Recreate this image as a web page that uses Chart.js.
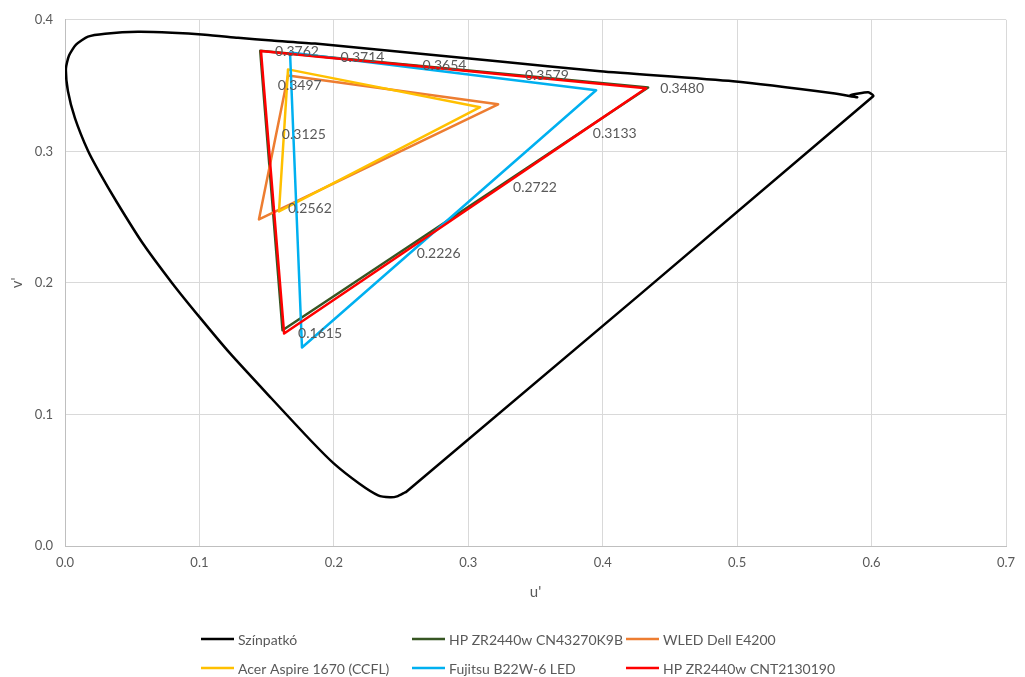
<!DOCTYPE html>
<html>
<head>
<meta charset="utf-8">
<script src="https://cdn.jsdelivr.net/npm/chart.js@4.4.1/dist/chart.umd.min.js"></script>
<style>
  html, body { margin: 0; padding: 0; background: #ffffff; }
  #wrap { width: 1025px; height: 677px; }
</style>
</head>
<body>
<div id="wrap"><canvas id="c" width="1025" height="677"></canvas></div>
<script>
// Series names (legend order)
const seriesNames = [
  'Színpatkó',
  'HP ZR2440w CN43270K9B',
  'WLED Dell E4200',
  'Acer Aspire 1670 (CCFL)',
  'Fujitsu B22W-6 LED',
  'HP ZR2440w CNT2130190'
];
const seriesColors = ['#000000', '#375623', '#ED7D31', '#FFC000', '#00B0F0', '#FF0000'];

// Spectral locus (horseshoe) in u'/v', from the violet end round to the red end and back
const locusU = [0.2530, 0.2470, 0.2418, 0.2329, 0.2188, 0.2001, 0.1830, 0.1533, 0.1228,
                0.1004, 0.0796, 0.0573, 0.0387, 0.0257, 0.0171, 0.0074, 0.0022, 0.0007, 0.0030,
                0.0082, 0.0171, 0.0298, 0.0543, 0.0796, 0.1042, 0.1287, 0.1540, 0.1860, 0.3237,
                0.3981, 0.4970, 0.5714, 0.5893, 0.5841, 0.5975, 0.6012, 0.2537];
const locusV = [0.0408, 0.0377, 0.0370, 0.0385, 0.0475, 0.0626, 0.0800, 0.1125, 0.1464,
                0.1736, 0.2000, 0.2309, 0.2611, 0.2838, 0.3004, 0.3253, 0.3457, 0.3630, 0.3728,
                0.3811, 0.3872, 0.3894, 0.3909, 0.3902, 0.3887, 0.3864, 0.3842, 0.3819, 0.3683,
                0.3608, 0.3532, 0.3442, 0.3411, 0.3426, 0.3449, 0.3419, 0.0410];

// Monitor gamut triangles (closed: last point repeats the first)
const hpK9bU   = [0.1452, 0.4338, 0.1618, 0.1452];
const hpK9bV   = [0.3765, 0.3485, 0.1640, 0.3765];
const dellU    = [0.1659, 0.3222, 0.1443, 0.1659];
const dellV    = [0.3577, 0.3358, 0.2483, 0.3577];
const acerU    = [0.1659, 0.3088, 0.1592, 0.1659];
const acerV    = [0.3623, 0.3336, 0.2543, 0.3623];
const fujitsuU = [0.1674, 0.3951, 0.1763, 0.1674];
const fujitsuV = [0.3751, 0.3464, 0.1509, 0.3751];
// HP CNT2130190 measured along the triangle edges; each point carries its v' label
const hp190U   = [0.1458, 0.1945, 0.2555, 0.3317, 0.4323, 0.3822, 0.3229, 0.2512, 0.1630, 0.1554, 0.1509, 0.1479, 0.1458];
const hp190V   = [0.3762, 0.3714, 0.3654, 0.3579, 0.3480, 0.3133, 0.2722, 0.2226, 0.1615, 0.2562, 0.3125, 0.3497, 0.3762];

// Axis ticks
const xTicks = [0.0, 0.1, 0.2, 0.3, 0.4, 0.5, 0.6, 0.7];
const yTicks = [0.0, 0.1, 0.2, 0.3, 0.4];

const toPoints = (us, vs) => us.map((u, i) => ({ x: u, y: vs[i] }));
const seriesData = [
  toPoints(locusU, locusV),
  toPoints(hpK9bU, hpK9bV),
  toPoints(dellU, dellV),
  toPoints(acerU, acerV),
  toPoints(fujitsuU, fujitsuV),
  toPoints(hp190U, hp190V)
];

const TEXT = '#595959';
const FONT = 'Lato, "Open Sans", "DejaVu Sans", sans-serif';

// v' value labels to the right of each HP CNT2130190 point
const valueLabels = {
  id: 'valueLabels',
  afterDatasetsDraw(chart) {
    const meta = chart.getDatasetMeta(5);
    const ctx = chart.ctx;
    ctx.save();
    ctx.font = '14px ' + FONT;
    ctx.fillStyle = TEXT;
    ctx.textAlign = 'left';
    ctx.textBaseline = 'middle';
    meta.data.forEach((el, i) => {
      if (i === meta.data.length - 1) return; // closing point repeats the first
      ctx.fillText(hp190V[i].toFixed(4), el.x + 14, el.y);
    });
    ctx.restore();
  }
};

// Two-row legend laid out in fixed columns under the plot
const gridLegend = {
  id: 'gridLegend',
  afterDraw(chart, args, opts) {
    const ctx = chart.ctx;
    ctx.save();
    ctx.font = '14px ' + FONT;
    ctx.textBaseline = 'middle';
    ctx.textAlign = 'left';
    chart.data.datasets.forEach((ds, i) => {
      const col = i % 3, row = Math.floor(i / 3);
      const x = opts.cols[col], y = opts.rows[row];
      ctx.strokeStyle = ds.borderColor;
      ctx.lineWidth = 2.5;
      ctx.beginPath();
      ctx.moveTo(x, y);
      ctx.lineTo(x + opts.lineLen, y);
      ctx.stroke();
      ctx.fillStyle = TEXT;
      ctx.fillText(ds.label, x + opts.lineLen + 4, y + 1);
    });
    ctx.restore();
  }
};

const datasets = seriesNames.map((name, i) => ({
  label: name,
  data: seriesData[i],
  borderColor: seriesColors[i],
  backgroundColor: seriesColors[i],
  borderWidth: 2.5,
  showLine: true,
  fill: false,
  pointRadius: 0,
  pointHoverRadius: 0,
  tension: i === 0 ? 0.2 : 0,
  borderJoinStyle: 'round',
  borderCapStyle: 'round',
  order: seriesNames.length - 1 - i
}));

new Chart(document.getElementById('c'), {
  type: 'scatter',
  data: { datasets },
  options: {
    responsive: false,
    animation: false,
    devicePixelRatio: 1,
    layout: { padding: { top: 16, right: 19, bottom: 72, left: 0 } },
    plugins: {
      legend: { display: false },
      tooltip: { enabled: false },
      gridLegend: { cols: [201, 412, 626], rows: [639, 668], lineLen: 33 }
    },
    scales: {
      x: {
        type: 'linear',
        min: 0, max: 0.7,
        afterFit: s => { s.height = 59; },
        afterBuildTicks: s => { s.ticks = xTicks.map(v => ({ value: v })); },
        ticks: {
          color: TEXT, font: { family: FONT, size: 13 }, padding: 9,
          callback: v => Number(v).toFixed(1)
        },
        grid: { color: '#d9d9d9', lineWidth: 1, drawTicks: false },
        border: { color: '#bfbfbf' },
        title: { display: true, text: "u'", color: TEXT, font: { family: FONT, size: 15 }, padding: { top: 4, bottom: 4 } }
      },
      y: {
        type: 'linear',
        min: 0, max: 0.4,
        afterFit: s => { s.width = 65; },
        afterBuildTicks: s => { s.ticks = yTicks.map(v => ({ value: v })); },
        ticks: {
          color: TEXT, font: { family: FONT, size: 13 }, padding: 12,
          callback: v => Number(v).toFixed(1)
        },
        grid: { color: '#d9d9d9', lineWidth: 1, drawTicks: false },
        border: { color: '#bfbfbf' },
        title: { display: true, text: "v'", color: TEXT, font: { family: FONT, size: 15 }, padding: { top: 8, bottom: 0 } }
      }
    }
  },
  plugins: [valueLabels, gridLegend]
});
</script>
</body>
</html>
